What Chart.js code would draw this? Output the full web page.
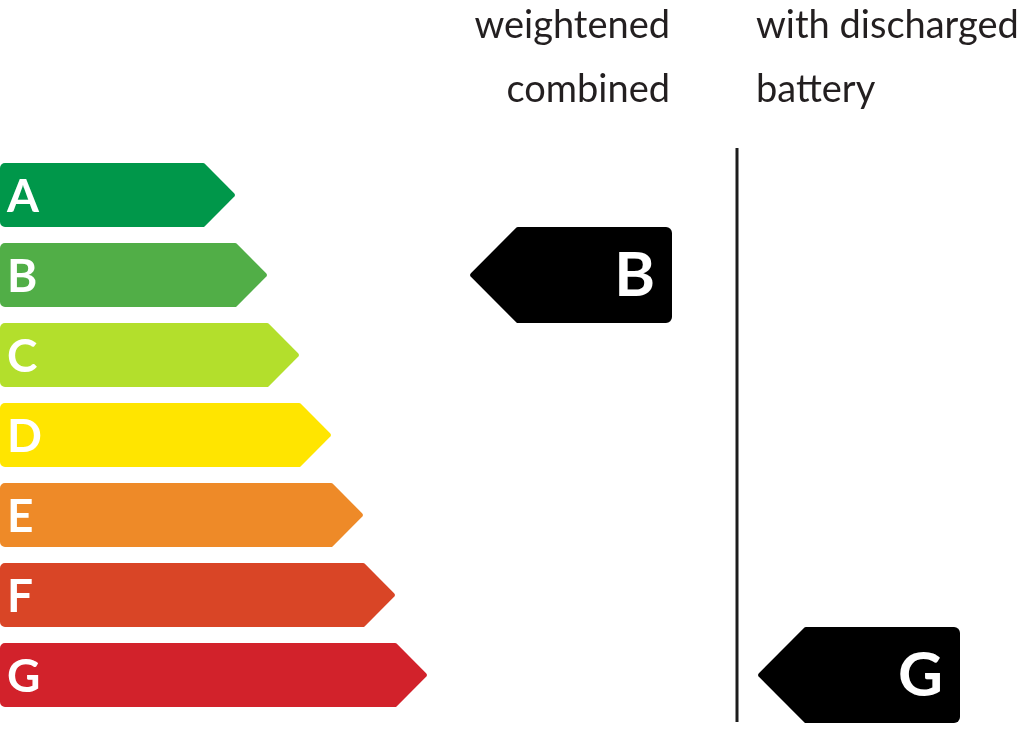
<!DOCTYPE html>
<html>
<head>
<meta charset="utf-8">
<script src="https://cdn.jsdelivr.net/npm/chart.js@4.4.1/dist/chart.umd.min.js"></script>
<style>
  html, body { margin: 0; padding: 0; background: #fff; }
  #wrap { width: 1024px; height: 730px; position: relative; }
</style>
</head>
<body>
<div id="wrap"><canvas id="chart"></canvas></div>
<script>
// energy classes and the length of each class arrow
const classes = ['A', 'B', 'C', 'D', 'E', 'F', 'G'];
const classLengths = [236, 268, 300, 332, 364, 396, 428];
const classColors = ['#00974a', '#51ae47', '#b3df2c', '#ffe500', '#ee8a28', '#d94526', '#d2222b'];

// the two rating columns
const columnHeaders = [['weightened', 'combined'], ['with discharged', 'battery']];
const ratings = ['B', 'G'];
const columnSpans = [[469, 672], [757, 960]];
const dividerAt = 737;

const FONT = 'Lato, "Open Sans", sans-serif';

function roundedPoly(ctx, pts, radii) {
  const n = pts.length;
  ctx.beginPath();
  const last = pts[n - 1], first = pts[0];
  ctx.moveTo((last[0] + first[0]) / 2, (last[1] + first[1]) / 2);
  for (let i = 0; i < n; i++) {
    const p = pts[i], nx = pts[(i + 1) % n];
    ctx.arcTo(p[0], p[1], nx[0], nx[1], radii[i]);
  }
  ctx.closePath();
}

const labelPlugin = {
  id: 'energyLabel',
  beforeDatasetDraw(chart, args) {
    const ctx = chart.ctx;
    const meta = args.meta;
    const ds = chart.data.datasets[args.index];
    ctx.save();
    meta.data.forEach((el, i) => {
      const p = el.getProps(['x', 'y', 'base', 'height'], true);
      const h = p.height, top = p.y - h / 2, bottom = p.y + h / 2;
      const left = Math.min(p.base, p.x), right = Math.max(p.base, p.x);
      const tip = h / 2;
      ctx.fillStyle = Array.isArray(ds.backgroundColor) ? ds.backgroundColor[i] : ds.backgroundColor;
      if (ds.kind === 'class') {
        roundedPoly(ctx, [[left, top], [right - tip, top], [right, p.y], [right - tip, bottom], [left, bottom]], [5, 2, 3, 2, 5]);
        ctx.fill();
        ctx.fillStyle = '#fff';
        ctx.font = 'bold 46px ' + FONT;
        ctx.textAlign = 'left';
        ctx.textBaseline = 'alphabetic';
        ctx.fillText(classes[i], left + 7, p.y + 17);
      } else {
        roundedPoly(ctx, [[left, p.y], [left + tip, top], [right, top], [right, bottom], [left + tip, bottom]], [3, 2, 6, 6, 2]);
        ctx.fill();
        ctx.fillStyle = '#fff';
        ctx.font = 'bold 62px ' + FONT;
        ctx.textAlign = 'right';
        ctx.textBaseline = 'alphabetic';
        ctx.fillText(ratings[i], right - 17, p.y + 21);
      }
    });
    ctx.restore();
    return false;
  },
  afterDraw(chart) {
    const ctx = chart.ctx;
    const area = chart.chartArea;
    const xs = chart.scales.x;
    ctx.save();
    // divider line
    const dx = xs.getPixelForValue(dividerAt);
    ctx.strokeStyle = '#1c1c1c';
    ctx.lineWidth = 3;
    ctx.beginPath();
    ctx.moveTo(dx, area.top - 7);
    ctx.lineTo(dx, area.bottom + 7);
    ctx.stroke();
    // column headers
    ctx.fillStyle = '#231f20';
    ctx.font = '38px ' + FONT;
    ctx.textBaseline = 'alphabetic';
    columnHeaders.forEach((lines, c) => {
      const span = columnSpans[c];
      let x, align;
      if (c === 0) { x = xs.getPixelForValue(span[1]) - 2; align = 'right'; }
      else { x = xs.getPixelForValue(span[0]) - 1; align = 'left'; }
      ctx.textAlign = align;
      lines.forEach((t, k) => ctx.fillText(t, x, 38 + k * 64));
    });
    ctx.restore();
  }
};

new Chart(document.getElementById('chart'), {
  type: 'bar',
  data: {
    labels: classes,
    datasets: [
      {
        kind: 'class',
        data: classLengths,
        backgroundColor: classColors,
        barPercentage: 0.8,
        categoryPercentage: 1,
        grouped: false
      },
      {
        kind: 'rating',
        data: ratings.map((r, i) => ({ x: columnSpans[i], y: r })),
        backgroundColor: '#000',
        barPercentage: 1.2,
        categoryPercentage: 1,
        grouped: false
      }
    ]
  },
  options: {
    indexAxis: 'y',
    responsive: true,
    maintainAspectRatio: false,
    animation: false,
    layout: { padding: { top: 155, bottom: 15, left: 0, right: 0 } },
    scales: {
      x: { min: 0, max: 1024, display: false },
      y: { display: false }
    },
    plugins: { legend: { display: false }, tooltip: { enabled: false } }
  },
  plugins: [labelPlugin]
});
</script>
</body>
</html>
